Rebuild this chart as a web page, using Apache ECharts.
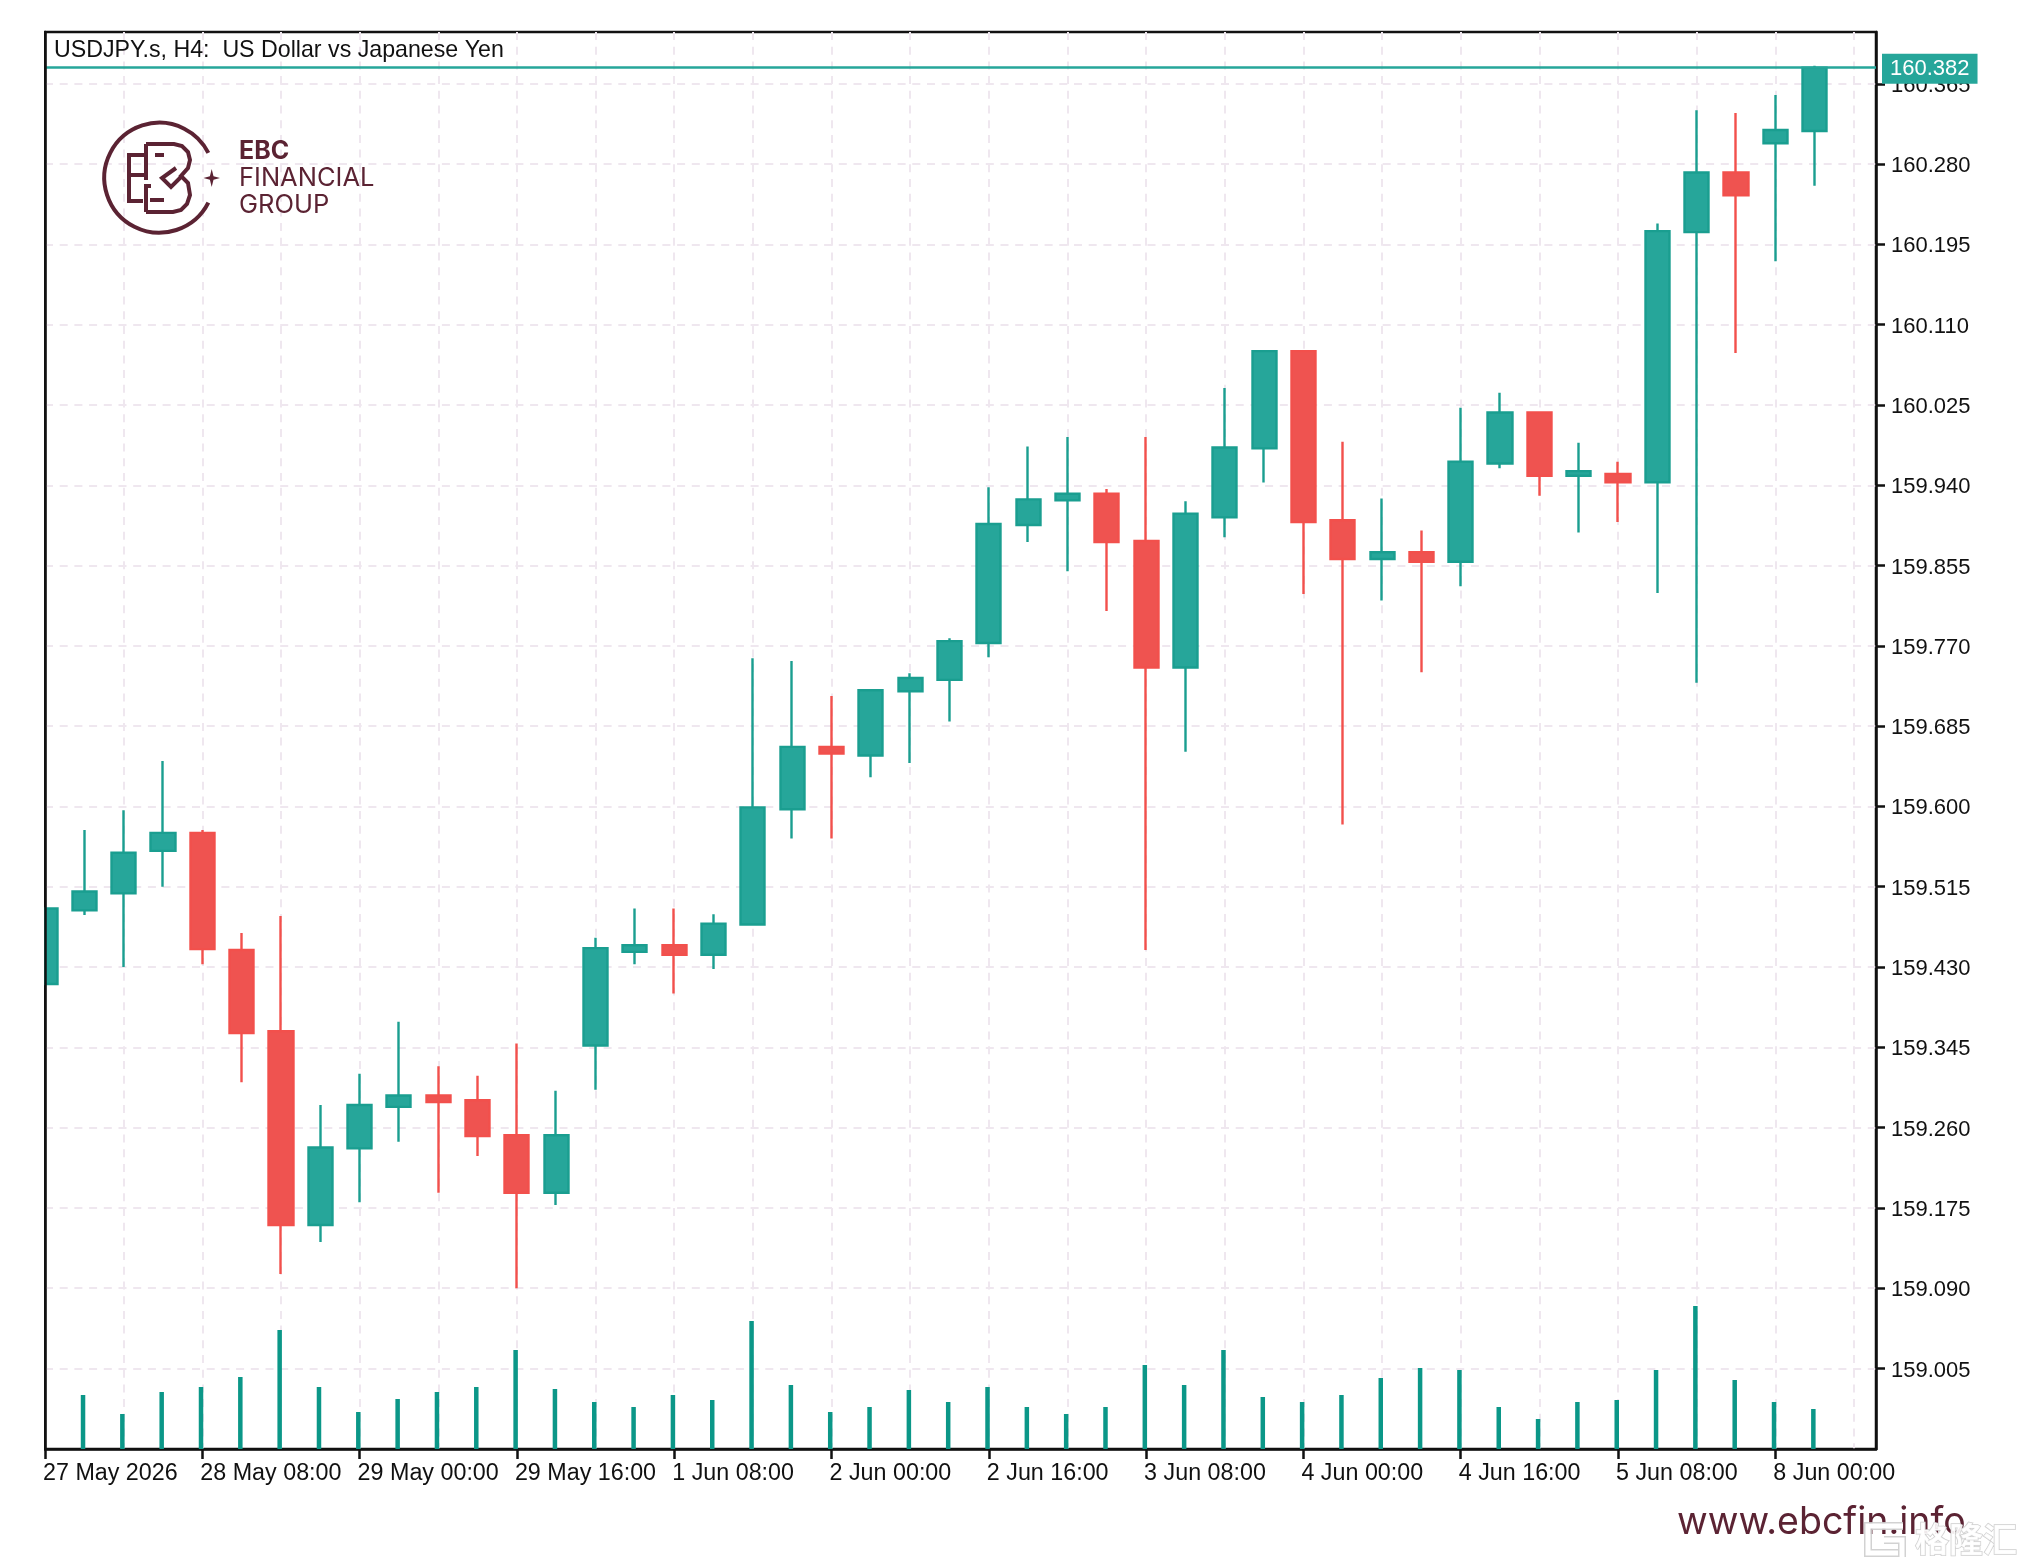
<!DOCTYPE html>
<html>
<head>
<meta charset="utf-8">
<title>USDJPY.s H4</title>
<script src="https://cdn.jsdelivr.net/npm/echarts@6/dist/echarts.min.js"></script>
<style>
  html, body { margin: 0; padding: 0; background: #fff; }
  #chart { width: 2028px; height: 1568px; }
</style>
</head>
<body>
<div id="chart"></div>
<script>
// USDJPY.s H4 candles, oldest first; one entry per bar.
const opens = [159.412,159.490,159.508,159.553,159.572,159.448,159.362,159.157,159.238,159.282,
  159.294,159.289,159.252,159.191,159.347,159.446,159.453,159.443,159.475,159.597,
  159.663,159.654,159.722,159.734,159.773,159.898,159.924,159.931,159.881,159.747,
  159.906,159.979,160.082,159.903,159.862,159.869,159.859,159.963,160.017,159.950,
  159.952,159.943,160.208,160.271,160.302,160.315];
const closes = [159.492,159.510,159.551,159.572,159.449,159.360,159.157,159.239,159.284,159.294,
  159.287,159.251,159.191,159.252,159.450,159.453,159.443,159.476,159.599,159.663,
  159.656,159.723,159.736,159.775,159.899,159.925,159.931,159.880,159.747,159.910,
  159.980,160.082,159.901,159.862,159.869,159.859,159.965,160.017,159.950,159.955,
  159.943,160.209,160.271,160.247,160.316,160.382];
const lows = [159.412,159.485,159.430,159.515,159.433,159.308,159.105,159.139,159.181,159.245,
  159.191,159.230,159.090,159.178,159.300,159.433,159.402,159.428,159.475,159.566,
  159.566,159.631,159.646,159.690,159.758,159.880,159.849,159.807,159.448,159.658,
  159.885,159.943,159.825,159.581,159.818,159.742,159.833,159.958,159.929,159.890,
  159.901,159.826,159.731,160.080,160.177,160.257];
const highs = [159.492,159.575,159.596,159.648,159.575,159.466,159.484,159.284,159.317,159.372,
  159.325,159.315,159.349,159.299,159.461,159.492,159.492,159.486,159.757,159.754,
  159.717,159.723,159.741,159.778,159.938,159.981,159.991,159.936,159.991,159.923,
  160.043,160.082,160.082,159.986,159.926,159.892,160.022,160.038,160.017,159.985,
  159.965,160.217,160.337,160.334,160.353,160.384];
// Tick volume per bar; the first bar's column sits outside the plot.
const volumes = [null,54,35,57,62,72,119,62,37,50,57,62,99,60,47,42,54,49,128,64,
  37,42,59,47,62,42,35,42,84,64,99,52,47,54,71,81,79,42,30,47,49,79,143,69,47,40];

const lastPrice = 160.382;
const priceTicks = [159.005,159.090,159.175,159.260,159.345,159.430,159.515,159.600,159.685,
  159.770,159.855,159.940,160.025,160.110,160.195,160.280,160.365];
const timeBars = [0,4,8,12,16,20,24,28,32,36,40,44];
const timeLabels = ['27 May 2026','28 May 08:00','29 May 00:00','29 May 16:00','1 Jun 08:00',
  '2 Jun 00:00','2 Jun 16:00','3 Jun 08:00','4 Jun 00:00','4 Jun 16:00','5 Jun 08:00','8 Jun 00:00'];
const gridBars = [2,4,6,8,10,12,14,16,18,20,22,24,26,28,30,32,34,36,38,40,42,44,46];

const UP = '#26a69a', DOWN = '#ef5350', BRAND = '#5b2333', INK = '#111111', GRID = '#efe7ef';
const TICK_FONT = 'Liberation Sans';
const PRICE_MIN = 158.9198, PRICE_MAX = 160.4198;
// Price labels hang a little below their ticks.
const LABEL_DROP = 0.0021;
const gridDash = { color: GRID, width: 2, type: [8, 6.7] };
const spine = { color: INK, width: 2.5 };
const plotRect = { left: 45, right: 152, top: 32, bottom: 119 };

const candles = opens.map((o, i) => [i, o, closes[i], lows[i], highs[i]]);
const volumeBars = volumes.map((v, i) => [i, v]);

// Stroked outline used by the company mark.
const outline = (points) => ({
  type: 'polyline', z: 10, silent: true,
  shape: { points },
  style: { stroke: BRAND, lineWidth: 4, fill: 'none' }
});
const brandText = (text, x, y, size, weight) => ({
  type: 'text', z: 10, silent: true, x, y,
  style: { text, fill: BRAND, fontFamily: 'Inter', fontWeight: weight || 'normal', fontSize: size, textBaseline: 'middle', verticalAlign: 'middle' }
});
// Corner stamp strokes: a grey edge under a white core.
const stampStroke = (points) => [
  { type: 'polyline', z: 11, silent: true, shape: { points },
    style: { stroke: 'rgba(205,205,205,0.9)', lineWidth: 8, fill: 'none' } },
  { type: 'polyline', z: 11, silent: true, shape: { points },
    style: { stroke: '#ffffff', lineWidth: 5, fill: 'none' } }
];

const chart = echarts.init(document.getElementById('chart'), null, { renderer: 'canvas' });

chart.setOption({
  animation: false,
  backgroundColor: '#ffffff',
  title: {
    text: 'USDJPY.s, H4:  US Dollar vs Japanese Yen',
    left: 54, top: 39, padding: 0,
    textStyle: { fontFamily: TICK_FONT, fontSize: 23.2, fontWeight: 'normal', color: INK }
  },
  grid: [
    Object.assign({ show: true, borderColor: INK, borderWidth: 2.5, backgroundColor: '#fff', containLabel: false }, plotRect),
    Object.assign({ show: false, containLabel: false }, plotRect)
  ],
  xAxis: [
    { // price plot: every second bar carries a vertical grid line
      type: 'value', gridIndex: 0, position: 'bottom', min: 0, max: 46.56,
      axisLine: { show: false }, axisLabel: { show: false },
      axisTick: { show: false, customValues: gridBars },
      splitLine: { show: true, lineStyle: gridDash }
    },
    { // time scale: labels start at their tick
      type: 'value', gridIndex: 0, position: 'bottom', min: 0, max: 46.56,
      axisLine: { show: true, onZero: false, lineStyle: spine },
      axisTick: { show: true, length: 10, customValues: timeBars, lineStyle: spine },
      axisLabel: {
        show: true, customValues: timeBars, align: 'left', margin: 13, padding: [0, 0, 0, -2],
        fontFamily: TICK_FONT, fontSize: 23.3, color: INK,
        formatter: (v) => timeLabels[timeBars.indexOf(v)] || ''
      },
      splitLine: { show: false }
    },
    { // volume columns sit just left of the candle centres
      type: 'value', gridIndex: 1, position: 'bottom', min: 0.033, max: 46.593, show: false
    }
  ],
  yAxis: [
    {
      type: 'value', gridIndex: 0, position: 'right', min: PRICE_MIN, max: PRICE_MAX, scale: true,
      axisLine: { show: true, onZero: false, lineStyle: spine },
      axisTick: { show: true, length: 9, customValues: priceTicks, lineStyle: spine },
      axisLabel: { show: false },
      splitLine: { show: true, lineStyle: gridDash }
    },
    { type: 'value', gridIndex: 1, min: 0, max: 1417, show: false },
    { // left edge of the plot, kept above the first candle
      type: 'value', gridIndex: 0, position: 'left', min: PRICE_MIN, max: PRICE_MAX, scale: true, z: 6,
      axisLine: { show: true, onZero: false, lineStyle: spine },
      axisTick: { show: false }, axisLabel: { show: false }, splitLine: { show: false }
    },
    { // price labels on the right
      type: 'value', gridIndex: 0, position: 'right', scale: true,
      min: PRICE_MIN + LABEL_DROP, max: PRICE_MAX + LABEL_DROP,
      axisLine: { show: false }, axisTick: { show: false }, splitLine: { show: false },
      axisLabel: {
        show: true, customValues: priceTicks, margin: 15,
        fontFamily: TICK_FONT, fontSize: 22, color: INK,
        formatter: (v) => v.toFixed(3)
      }
    }
  ],
  series: [
    {
      name: 'USDJPY.s',
      type: 'candlestick',
      xAxisIndex: 0, yAxisIndex: 0,
      barWidth: 24.6,
      encode: { x: 0, y: [1, 2, 3, 4] },
      data: candles,
      z: 3,
      itemStyle: { color: UP, color0: DOWN, borderColor: '#1a9e90', borderColor0: '#f2504c', borderWidth: 2.4 },
      markLine: {
        silent: true, symbol: 'none', animation: false, precision: 3,
        lineStyle: { color: UP, width: 2.5, type: 'solid', opacity: 1 },
        label: {
          show: true, position: 'end', distance: 6, offset: [0, 1], color: '#ffffff',
          backgroundColor: UP, padding: [5, 8, 3, 8],
          fontFamily: TICK_FONT, fontSize: 22,
          formatter: () => lastPrice.toFixed(3)
        },
        data: [{ yAxis: lastPrice }]
      }
    },
    {
      name: 'Volume',
      type: 'bar',
      xAxisIndex: 2, yAxisIndex: 1,
      barWidth: 4.5,
      data: volumeBars,
      z: 2,
      itemStyle: { color: '#0b9788' }
    }
  ],
  graphic: [
    // the candle that straddles the left edge is cut off at the plot
    { type: 'rect', z: 5, silent: true, shape: { x: 10, y: 30, width: 34, height: 1422 }, style: { fill: '#ffffff' } },
    // company mark: ring, monogram and four-point star
    { type: 'arc', z: 10, silent: true,
      shape: { cx: 159.3, cy: 177.7, r: 55, startAngle: 0.47, endAngle: Math.PI * 2 - 0.47 },
      style: { stroke: BRAND, lineWidth: 4, fill: 'none' } },
    outline([[146,155],[129,155],[129,201],[143,201]]),
    outline([[129,175],[146,175]]),
    outline([[146,144],[146,180]]),
    outline([[151,186],[146,186],[146,212]]),
    outline([[146,144],[174,144],[182,146],[188,152],[190,160],[188,168],[181,176],[188,183],[190,195],[187,204],[181,210],[173,212],[146,212]]),
    outline([[150,200],[164,200]]),
    outline([[155,155],[164,155]]),
    outline([[176,168],[162,178],[171,187],[182,176]]),
    { type: 'polygon', z: 10, silent: true,
      shape: { points: [[211.7,169],[213.5,176.2],[220,178],[213.5,179.8],[211.7,187],[209.9,179.8],[203.4,178],[209.9,176.2]] },
      style: { fill: BRAND, stroke: 'none' } },
    brandText('EBC', 239, 151, 25, 'bold'),
    brandText('FINANCIAL', 239, 178, 25.5),
    brandText('GROUP', 239, 205, 25.5),
    // site address under the time scale
    brandText('www.ebcfin.info', 1677, 1523, 37.5),
    // publisher stamp in the corner
    ...stampStroke([[1903,1526],[1868,1526],[1868,1553],[1898,1553]]),
    ...stampStroke([[1884,1540],[1902,1540],[1902,1557]]),
    { type: 'text', z: 11, silent: true, x: 1915, y: 1539,
      style: { text: '格隆汇', fill: 'rgba(255,255,255,0.9)', stroke: '#cfcfcf', lineWidth: 1.5,
        fontFamily: 'Noto Sans CJK SC', fontWeight: 'bold', fontSize: 34, textBaseline: 'middle', verticalAlign: 'middle' } }
  ]
});
</script>
</body>
</html>
